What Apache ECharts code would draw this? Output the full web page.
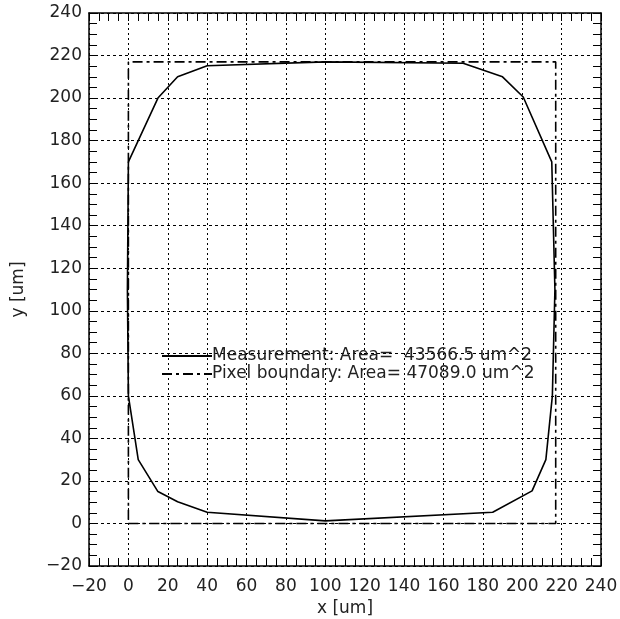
<!DOCTYPE html>
<html><head><meta charset="utf-8">
<script src="https://cdn.jsdelivr.net/npm/echarts@6/dist/echarts.min.js"></script>
<style>html,body{margin:0;padding:0;background:#fff}#c{width:620px;height:619px}</style>
</head><body><div id="c"></div>
<script>
// Measurement contour (x, y) in um
var measX = [0, 15, 25, 40, 100, 170, 190, 200.5, 215, 216.6, 215.3, 212, 205, 185, 100, 40, 25, 15, 5, 0, -0.5, 0];
var measY = [170, 200, 210, 215.2, 217, 216.4, 210, 200.5, 170, 110, 60, 30, 15.3, 5.3, 1.2, 5.3, 10.2, 15, 30, 60, 110, 170];
// Pixel boundary rectangle
var pixX = [0, 217, 217, 0, 0];
var pixY = [0, 0, 217, 217, 0];
var xTicks = [-20, 0, 20, 40, 60, 80, 100, 120, 140, 160, 180, 200, 220, 240];
var yTicks = [-20, 0, 20, 40, 60, 80, 100, 120, 140, 160, 180, 200, 220, 240];
var legendNames = ['Measurement: Area=  43566.5 um^2', 'Pixel boundary: Area= 47089.0 um^2'];

function zip(a, b) { return a.map(function (v, i) { return [v, b[i]]; }); }
var font = 'DejaVu Sans';
var black = '#000';
var txt = '#222';
function fmt(v) { return String(v).replace('-', '\u2212'); }
function axisBase(extra) {
  var o = {
    type: 'value', min: xTicks[0], max: xTicks[xTicks.length - 1], interval: 20,
    axisLine: { show: true, onZero: false, lineStyle: { color: black, width: 1.5 } },
    axisTick: { show: true, inside: true, length: 8, lineStyle: { color: black, width: 1 } },
    minorTick: { show: true, splitNumber: 4, length: 8, lineStyle: { color: black, width: 1 } },
    splitLine: { show: false },
    axisLabel: { show: false }
  };
  for (var k in extra) o[k] = extra[k];
  return o;
}
var chart = echarts.init(document.getElementById('c'));
chart.setOption({
  animation: false,
  backgroundColor: '#fff',
  grid: { left: 89, right: 19, top: 13, bottom: 53, containLabel: false, outerBoundsMode: 'none' },
  legend: {
    orient: 'vertical', left: 156, top: 342, itemWidth: 50, itemHeight: 14, itemGap: 0,
    itemStyle: { opacity: 0 },
    textStyle: { fontFamily: font, fontSize: 17, lineHeight: 18, color: txt, padding: [0, 0, 0, -5] },
    data: [legendNames[0], legendNames[1]]
  },
  xAxis: [
    axisBase({
      position: 'bottom', name: 'x [um]', nameLocation: 'middle', nameGap: 34,
      nameTextStyle: { fontFamily: font, fontSize: 17, color: txt },
      splitLine: { show: true, lineStyle: { color: black, type: [2, 3], width: 1 } },
      axisLabel: { show: true, margin: 12, fontFamily: font, fontSize: 17, color: txt, formatter: fmt }
    }),
    axisBase({ position: 'top' })
  ],
  yAxis: [
    axisBase({
      min: yTicks[0], max: yTicks[yTicks.length - 1],
      position: 'left', name: 'y [um]', nameLocation: 'middle', nameGap: 62,
      nameTextStyle: { fontFamily: font, fontSize: 17, color: txt },
      splitLine: { show: true, lineStyle: { color: black, type: [3, 3], width: 1 } },
      axisLabel: { show: true, margin: 7, fontFamily: font, fontSize: 17, color: txt, formatter: fmt }
    }),
    axisBase({ min: yTicks[0], max: yTicks[yTicks.length - 1], position: 'right' })
  ],
  series: [
    {
      name: legendNames[0], type: 'line', data: zip(measX, measY), showSymbol: false, symbol: 'none',
      lineStyle: { color: black, width: 1.6 }, itemStyle: { color: black }
    },
    {
      name: legendNames[1], type: 'line', data: zip(pixX, pixY), showSymbol: false, symbol: 'none',
      lineStyle: { color: black, width: 1.6, type: [10, 4, 3, 4] }, itemStyle: { color: black }
    }
  ]
});
</script></body></html>
